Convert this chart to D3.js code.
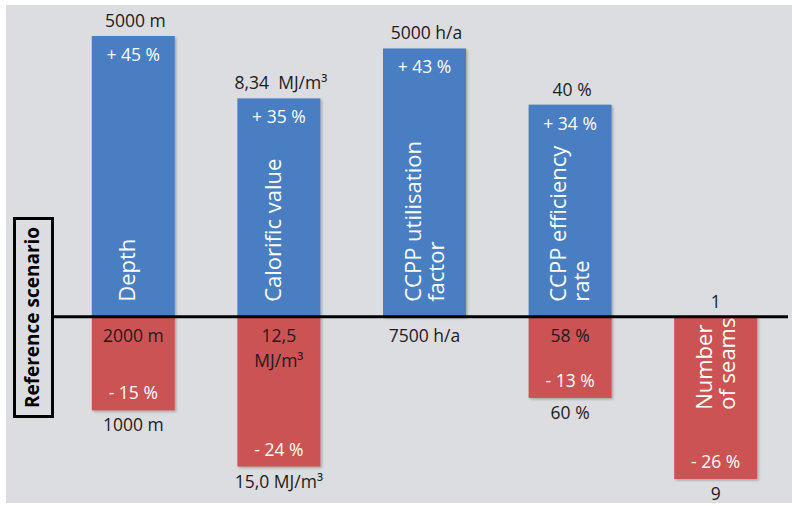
<!DOCTYPE html>
<html>
<head>
<meta charset="utf-8">
<script src="https://cdn.jsdelivr.net/npm/d3@7"></script>
<style>
  html, body { margin: 0; padding: 0; background: #ffffff; }
  svg { display: block; }
  text { font-family: "Open Sans", "DejaVu Sans", sans-serif; }
</style>
</head>
<body>
<div id="chart"></div>
<script>
// ---- data ----
const categories = ["Depth", "Calorific value", "CCPP utilisation factor", "CCPP efficiency rate", "Number of seams"];
const barLabelLines = [["Depth"], ["Calorific value"], ["CCPP utilisation", "factor"], ["CCPP efficiency", "rate"], ["Number", "of seams"]];
const increasePct = [45, 35, 43, 34, 0];
const decreasePct = [-15, -24, 0, -13, -26];
const increaseText = ["+ 45 %", "+ 35 %", "+ 43 %", "+ 34 %", ""];
const decreaseText = ["- 15 %", "- 24 %", "", "- 13 %", "- 26 %"];
const highValueLabels = ["5000 m", "8,34\u00a0 MJ/m³", "5000 h/a", "40 %", ""];
const referenceLabels = [["2000 m"], ["12,5", "MJ/m³"], ["7500 h/a"], ["58 %"], ["1"]];
const lowValueLabels = ["1000 m", "15,0 MJ/m³", "", "60 %", "9"];
const referenceTitle = "Reference scenario";

// ---- layout ----
const W = 792, H = 506;
const BLUE = "#4a7ec3", RED = "#cb5253", BG = "#dcdde0", INK = "#1c1c1c";

const svg = d3.select("#chart").append("svg").attr("width", W).attr("height", H);

const defs = svg.append("defs");
const f = defs.append("filter").attr("id", "sh").attr("x", "-10%").attr("y", "-10%").attr("width", "130%").attr("height", "130%");
f.append("feDropShadow").attr("dx", 1.5).attr("dy", 1.5).attr("stdDeviation", 1.2)
  .attr("flood-color", "#000").attr("flood-opacity", 0.25);

svg.append("rect").attr("x", 6).attr("y", 5).attr("width", W - 6).attr("height", 498).attr("fill", BG);

const x = d3.scaleBand().domain(categories).range([19, 830]).paddingInner(0.43).paddingOuter(0.5);
const y = d3.scaleLinear().domain([-30, 45]).range([504, 36]);
const y0 = y(0);

const rows = categories.map((c, i) => ({
  c, i, inc: increasePct[i], dec: decreasePct[i],
  incT: increaseText[i], decT: decreaseText[i],
  hi: highValueLabels[i], ref: referenceLabels[i], lo: lowValueLabels[i],
  lines: barLabelLines[i]
}));

// bars
const g = svg.append("g");
g.selectAll("rect.inc").data(rows.filter(d => d.inc > 0)).join("rect")
  .attr("class", "inc")
  .attr("x", d => x(d.c)).attr("width", x.bandwidth())
  .attr("y", d => y(d.inc)).attr("height", d => y0 - y(d.inc))
  .attr("fill", BLUE).attr("filter", "url(#sh)");
g.selectAll("rect.dec").data(rows.filter(d => d.dec < 0)).join("rect")
  .attr("class", "dec")
  .attr("x", d => x(d.c)).attr("width", x.bandwidth())
  .attr("y", y0).attr("height", d => y(d.dec) - y0)
  .attr("fill", RED).attr("filter", "url(#sh)");

const cx = d => x(d.c) + x.bandwidth() / 2;

// baseline
svg.append("line").attr("x1", 52).attr("x2", 788).attr("y1", y0).attr("y2", y0)
  .attr("stroke", "#000").attr("stroke-width", 3);

// reference scenario box
svg.append("rect").attr("x", 14.5).attr("y", 218.5).attr("width", 38).attr("height", 198)
  .attr("fill", "none").attr("stroke", "#000").attr("stroke-width", 3);
svg.append("text").attr("transform", `translate(39,317.5) rotate(-90)`)
  .attr("text-anchor", "middle").attr("font-weight", "bold").attr("font-size", 19)
  .attr("fill", "#000").text(referenceTitle);

const labels = svg.append("g").attr("font-size", 17.5);

// high value labels above blue bars
labels.selectAll("text.hi").data(rows.filter(d => d.hi)).join("text")
  .attr("class", "hi").attr("x", d => cx(d) + 2).attr("y", d => y(d.inc) - 9)
  .attr("text-anchor", "middle").attr("fill", INK).text(d => d.hi);

// increase pct inside blue bars
labels.selectAll("text.incT").data(rows.filter(d => d.incT)).join("text")
  .attr("class", "incT").attr("x", cx).attr("y", d => y(d.inc) + 25)
  .attr("text-anchor", "middle").attr("fill", "#fff").text(d => d.incT);

// decrease pct inside red bars
labels.selectAll("text.decT").data(rows.filter(d => d.decT)).join("text")
  .attr("class", "decT").attr("x", cx).attr("y", d => y(d.dec) - 11)
  .attr("text-anchor", "middle").attr("fill", "#fff").text(d => d.decT);

// low value labels below red bars
labels.selectAll("text.lo").data(rows.filter(d => d.lo)).join("text")
  .attr("class", "lo").attr("x", cx).attr("y", d => y(d.dec) + 21)
  .attr("text-anchor", "middle").attr("fill", INK).text(d => d.lo);

// reference labels near the baseline
const refT = labels.selectAll("text.ref").data(rows).join("text")
  .attr("class", "ref").attr("text-anchor", "middle").attr("fill", INK)
  .attr("y", d => d.inc > 0 ? y0 + 25 : y0 - 9);
refT.selectAll("tspan").data(d => d.ref.map(t => ({ t, x: cx(d) }))).join("tspan")
  .attr("x", t => t.x).attr("dy", (t, j) => j === 0 ? 0 : 25).text(t => t.t);

// rotated category labels inside the bars
rows.forEach(d => {
  const n = d.lines.length;
  const offs = n === 1 ? [2] : [-4, 19];
  const yStart = d.inc > 0 ? y0 - 15 : y0 + 93;
  d.lines.forEach((line, j) => {
    svg.append("text")
      .attr("transform", `translate(${cx(d) + offs[j]},${yStart}) rotate(-90)`)
      .attr("text-anchor", "start").attr("font-size", 22).attr("fill", "#fff")
      .text(line);
  });
});
</script>
</body>
</html>
